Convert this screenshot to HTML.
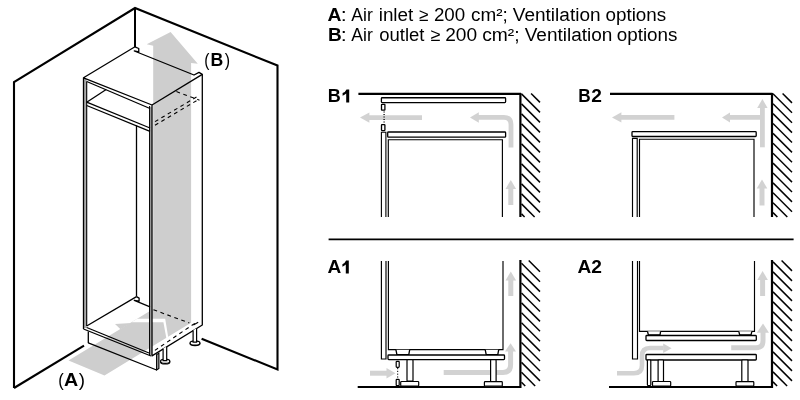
<!DOCTYPE html>
<html><head><meta charset="utf-8"><style>
html,body{margin:0;padding:0;background:#fff;width:800px;height:400px;overflow:hidden}
svg{display:block;will-change:transform}
text{font-family:"Liberation Sans",sans-serif}
</style></head><body>
<svg width="800" height="400" viewBox="0 0 800 400">
<line x1="422" y1="117.6" x2="368.4" y2="117.6" stroke="#d2d2d2" stroke-width="4.8"/><polygon points="360,117.6 369.4,112.39999999999999 369.4,122.8" fill="#d2d2d2"/><path d="M511 147.5 V124.6 Q511 117.4 504 117.4 H478" fill="none" stroke="#d2d2d2" stroke-width="4.8"/><polygon points="470,117.5 478.8,112.2 478.8,122.8" fill="#d2d2d2"/><line x1="510.8" y1="205" x2="510.8" y2="188" stroke="#d2d2d2" stroke-width="5"/><polygon points="510.8,180 505.5,189 516.1,189" fill="#d2d2d2"/><line x1="674.4" y1="117.4" x2="620.4" y2="117.4" stroke="#d2d2d2" stroke-width="4.8"/><polygon points="612,117.4 621.4,112.2 621.4,122.60000000000001" fill="#d2d2d2"/><line x1="762.4" y1="147.3" x2="762.4" y2="107" stroke="#d2d2d2" stroke-width="4.8"/><polygon points="762.4,99.1 757.2,108 767.6,108" fill="#d2d2d2"/><line x1="762.4" y1="117.4" x2="730" y2="117.4" stroke="#d2d2d2" stroke-width="4.8"/><polygon points="722,117.4 730,112.4 730,122.4" fill="#d2d2d2"/><line x1="762" y1="205.5" x2="762" y2="187.5" stroke="#d2d2d2" stroke-width="5"/><polygon points="762,179.5 756.7,188.5 767.3,188.5" fill="#d2d2d2"/><line x1="370" y1="373.2" x2="387.5" y2="373.2" stroke="#d2d2d2" stroke-width="5"/><polygon points="395.5,373.2 386.5,367.9 386.5,378.5" fill="#d2d2d2"/><path d="M443.7 372.4 H503 Q510.6 372.4 510.6 364.8 V351" fill="none" stroke="#d2d2d2" stroke-width="5"/><polygon points="510.6,343.2 505,351.5 516,351.5" fill="#d2d2d2"/><line x1="510.8" y1="296" x2="510.8" y2="279.4" stroke="#d2d2d2" stroke-width="5"/><polygon points="510.8,271.4 505.5,280.4 516.1,280.4" fill="#d2d2d2"/><path d="M617 373.2 H634 Q642 373.2 642 365.2 V356 Q642 348 650 348 H663.5" fill="none" stroke="#d2d2d2" stroke-width="4.6"/><polygon points="671.6,348.2 663.2,343.4 663.2,353" fill="#d2d2d2"/><path d="M731.2 347.8 H756 Q763 347.8 763 340.8 V332" fill="none" stroke="#d2d2d2" stroke-width="5"/><polygon points="763,323.4 756.8,332.8 769,332.8" fill="#d2d2d2"/><line x1="762.6" y1="296" x2="762.6" y2="279" stroke="#d2d2d2" stroke-width="5"/><polygon points="762.6,271 757.3000000000001,280 767.9,280" fill="#d2d2d2"/><polygon points="68.5,360.5 153.2,309.00 153.2,45.8 146.7,44.2 170.6,32 197.8,63.8 191.1,63 191.1,322.85 104.5,375.5" fill="#cecece"/><polygon points="115,324 131,323 120.5,329.18" fill="#cecece"/><polygon points="137.09,318.8 165.2,318.8 168.6,339.4 166.6,339.4 163.4,322.2 131.49,322.2" fill="#fff"/><polyline points="14,388 14,82 135,8 277.5,65.5 277.5,369.5 201.6,338.7" fill="none" stroke="#000" stroke-width="2.1" stroke-linejoin="miter"/><line x1="135" y1="8" x2="135" y2="47" stroke="#000" stroke-width="2.0" /><line x1="14" y1="388" x2="84" y2="345.6" stroke="#000" stroke-width="2.1" /><rect x="83.5" y="79" width="3.2" height="249" fill="#aaa"/><rect x="149.6" y="107" width="2.4" height="248" fill="#b4b4b4"/><g fill="none" stroke="#000" stroke-width="1.3" stroke-linejoin="round"><polyline points="83.5,329 83.5,77.8 135,46.8 138.75,48.5 138.75,51.9 134.3,51 194,75 199,72.4 202.3,74.4 202.3,325 152,355.9 152,105 83.5,77.8"/><polyline points="152,105 202.3,74.4"/><line x1="86.7" y1="81.5" x2="150" y2="108.5"/><line x1="86.7" y1="81.5" x2="86.7" y2="326" stroke-width="1.1"/><line x1="86.7" y1="102.2" x2="106.2" y2="89.5"/><line x1="86.7" y1="102.2" x2="150" y2="128"/><line x1="86.7" y1="105.5" x2="150" y2="131.3"/><line x1="136.5" y1="125.5" x2="136.5" y2="296.6"/><line x1="149.6" y1="106" x2="149.6" y2="355" stroke-width="1.1"/><line x1="86.7" y1="326" x2="136.5" y2="296.6"/><polyline points="136.5,296.6 139.1,298.1 139.1,301.1 134.3,300.4 150,306.8"/><line x1="86.7" y1="327.5" x2="149" y2="353"/><line x1="83.5" y1="329" x2="151" y2="356"/><polyline points="88.3,331.5 88.3,342.8 156.6,370"/></g><g fill="none" stroke="#000" stroke-width="1.1" stroke-dasharray="3.8,3.6"><line x1="153.5" y1="309.8" x2="189.3" y2="322.9"/><line x1="154.9" y1="350.4" x2="197.5" y2="321.5"/><line x1="193.4" y1="325" x2="198.2" y2="322.3" stroke-dasharray="none"/><line x1="176.4" y1="91.6" x2="199.5" y2="100.2"/><line x1="155" y1="121.6" x2="199" y2="95.6"/><line x1="155" y1="125.2" x2="199" y2="99.2"/></g><g fill="#fff" stroke="#000" stroke-width="1.2"><ellipse cx="195" cy="343.6" rx="4.9" ry="2.1"/><ellipse cx="195" cy="342.9" rx="4.9" ry="2.1"/><path d="M193.1 330.2 V342.2 H196.6 V328.2" /><ellipse cx="165.2" cy="361.9" rx="4.6" ry="2.1"/><ellipse cx="165.2" cy="361.2" rx="4.6" ry="2.1"/><path d="M163.1 348.6 V360.6 H166.7 V346.4" /><polygon points="156.6,354.6 158.9,353.2 158.9,368.4 156.6,370" fill="#aaa" stroke-width="1.1"/></g><path d="M349.2 89.4 V102.4 H346.2 V93.5 Q344.6 95.1 342.6 95.7 V93.1 Q345.4 92 346.5 89.4 Z" fill="#000"/><path d="M348.8 260.5 V273.4 H345.8 V264.6 Q344.2 266.2 342.4 266.8 V264.2 Q345 263.1 346.1 260.5 Z" fill="#000"/><line x1="328.6" y1="239.4" x2="793.6" y2="239.4" stroke="#000" stroke-width="1.6" /><line x1="358.4" y1="93.8" x2="521" y2="93.8" stroke="#000" stroke-width="2.2" /><line x1="520.4" y1="93" x2="520.4" y2="217" stroke="#000" stroke-width="2.2" /><g stroke="#000" stroke-width="1.5" stroke-linecap="butt"><line x1="531.10" y1="93.50" x2="540.00" y2="102.40"/><line x1="521.50" y1="93.90" x2="540.00" y2="112.40"/><line x1="521.50" y1="103.90" x2="540.00" y2="122.40"/><line x1="521.50" y1="113.90" x2="540.00" y2="132.40"/><line x1="521.50" y1="123.90" x2="540.00" y2="142.40"/><line x1="521.50" y1="133.90" x2="540.00" y2="152.40"/><line x1="521.50" y1="143.90" x2="540.00" y2="162.40"/><line x1="521.50" y1="153.90" x2="540.00" y2="172.40"/><line x1="521.50" y1="163.90" x2="540.00" y2="182.40"/><line x1="521.50" y1="173.90" x2="540.00" y2="192.40"/><line x1="521.50" y1="183.90" x2="540.00" y2="202.40"/><line x1="521.50" y1="193.90" x2="540.00" y2="212.40"/><line x1="521.50" y1="203.90" x2="534.60" y2="217.00"/><line x1="521.50" y1="213.90" x2="524.60" y2="217.00"/></g><rect x="381.4" y="97.75" width="124.2" height="4.9" rx="0.8" fill="#fff" stroke="#000" stroke-width="1.3"/><rect x="381.5" y="104.3" width="3.4" height="5.9" rx="0.5" fill="#fff" stroke="#000" stroke-width="1.3"/><rect x="381.5" y="124.7" width="3.4" height="5.9" rx="0.5" fill="#fff" stroke="#000" stroke-width="1.3"/><line x1="384.1" y1="111.5" x2="384.1" y2="124" stroke="#000" stroke-width="1.3" stroke-dasharray="1.1,1.4"/><rect x="387.7" y="132" width="117.9" height="5.2" rx="0.8" fill="#fff" stroke="#000" stroke-width="1.3"/><path d="M381.4 217 V132.2 H385.9 V217" fill="#fff" stroke="#000" stroke-width="1.1"/><path d="M388.3 217 V139.7 H502.4 V217" fill="none" stroke="#000" stroke-width="1.15"/><line x1="610" y1="93.8" x2="772.4" y2="93.8" stroke="#000" stroke-width="2.2" /><line x1="772" y1="93" x2="772" y2="217" stroke="#000" stroke-width="2.2" /><g stroke="#000" stroke-width="1.5" stroke-linecap="butt"><line x1="782.60" y1="93.50" x2="792.00" y2="102.90"/><line x1="773.00" y1="93.80" x2="792.00" y2="112.80"/><line x1="773.00" y1="103.70" x2="792.00" y2="122.70"/><line x1="773.00" y1="113.60" x2="792.00" y2="132.60"/><line x1="773.00" y1="123.50" x2="792.00" y2="142.50"/><line x1="773.00" y1="133.40" x2="792.00" y2="152.40"/><line x1="773.00" y1="143.30" x2="792.00" y2="162.30"/><line x1="773.00" y1="153.20" x2="792.00" y2="172.20"/><line x1="773.00" y1="163.10" x2="792.00" y2="182.10"/><line x1="773.00" y1="173.00" x2="792.00" y2="192.00"/><line x1="773.00" y1="182.90" x2="792.00" y2="201.90"/><line x1="773.00" y1="192.80" x2="792.00" y2="211.80"/><line x1="773.00" y1="202.70" x2="787.30" y2="217.00"/><line x1="773.00" y1="212.60" x2="777.40" y2="217.00"/></g><rect x="632" y="131.6" width="124.2" height="4.9" rx="0.8" fill="#fff" stroke="#000" stroke-width="1.3"/><path d="M632.5 217 V138.4 H637.2 V217" fill="#fff" stroke="#000" stroke-width="1.15"/><path d="M639.5 217 V139.2 H754 V217" fill="none" stroke="#000" stroke-width="1.15"/><line x1="357.7" y1="387" x2="521" y2="387" stroke="#000" stroke-width="2.2" /><line x1="520.4" y1="260" x2="520.4" y2="388" stroke="#000" stroke-width="2.2" /><g stroke="#000" stroke-width="1.5" stroke-linecap="butt"><line x1="528.72" y1="260.50" x2="540.00" y2="271.78"/><line x1="521.50" y1="263.20" x2="540.00" y2="281.70"/><line x1="521.50" y1="273.12" x2="540.00" y2="291.62"/><line x1="521.50" y1="283.04" x2="540.00" y2="301.54"/><line x1="521.50" y1="292.96" x2="540.00" y2="311.46"/><line x1="521.50" y1="302.88" x2="540.00" y2="321.38"/><line x1="521.50" y1="312.80" x2="540.00" y2="331.30"/><line x1="521.50" y1="322.72" x2="540.00" y2="341.22"/><line x1="521.50" y1="332.64" x2="540.00" y2="351.14"/><line x1="521.50" y1="342.56" x2="540.00" y2="361.06"/><line x1="521.50" y1="352.48" x2="540.00" y2="370.98"/><line x1="521.50" y1="362.40" x2="540.00" y2="380.90"/><line x1="521.50" y1="372.32" x2="535.18" y2="386.00"/><line x1="521.50" y1="382.24" x2="525.26" y2="386.00"/></g><path d="M381.4 261 V359 H386 V261" fill="#fff" stroke="#000" stroke-width="1.15"/><path d="M388.4 261 V349.6 H503 V261" fill="none" stroke="#000" stroke-width="1.15"/><path d="M395.9 349.7 L396.9 354.6 H408.8 L409.7 349.7" fill="#fff" stroke="#000" stroke-width="1.3"/><path d="M485.2 349.7 L486.2 354.6 H497.8 L498.7 349.7" fill="#fff" stroke="#000" stroke-width="1.3"/><rect x="388" y="355" width="116.5" height="4.6" rx="0.8" fill="#fff" stroke="#000" stroke-width="1.3"/><rect x="407" y="359.6" width="6" height="21.6" rx="0.8" fill="#fff" stroke="#000" stroke-width="1.2"/><rect x="490.6" y="359.7" width="5.5" height="22" rx="0.8" fill="#fff" stroke="#000" stroke-width="1.2"/><rect x="400.7" y="381.5" width="18" height="4.6" rx="0.8" fill="#fff" stroke="#000" stroke-width="1.2"/><rect x="484.4" y="381.7" width="17.9" height="4.5" rx="0.8" fill="#fff" stroke="#000" stroke-width="1.2"/><rect x="396.2" y="361.3" width="3" height="6" rx="0.8" fill="#fff" stroke="#000" stroke-width="1.2"/><rect x="396.2" y="379.3" width="3" height="6.4" rx="0.8" fill="#fff" stroke="#000" stroke-width="1.2"/><line x1="397.7" y1="368" x2="397.7" y2="379" stroke="#000" stroke-width="1" stroke-dasharray="1.2,1.6"/><line x1="609" y1="387" x2="772.4" y2="387" stroke="#000" stroke-width="2.2" /><line x1="772" y1="260" x2="772" y2="388" stroke="#000" stroke-width="2.2" /><g stroke="#000" stroke-width="1.5" stroke-linecap="butt"><line x1="781.60" y1="260.50" x2="792.00" y2="270.90"/><line x1="773.00" y1="261.90" x2="792.00" y2="280.90"/><line x1="773.00" y1="271.90" x2="792.00" y2="290.90"/><line x1="773.00" y1="281.90" x2="792.00" y2="300.90"/><line x1="773.00" y1="291.90" x2="792.00" y2="310.90"/><line x1="773.00" y1="301.90" x2="792.00" y2="320.90"/><line x1="773.00" y1="311.90" x2="792.00" y2="330.90"/><line x1="773.00" y1="321.90" x2="792.00" y2="340.90"/><line x1="773.00" y1="331.90" x2="792.00" y2="350.90"/><line x1="773.00" y1="341.90" x2="792.00" y2="360.90"/><line x1="773.00" y1="351.90" x2="792.00" y2="370.90"/><line x1="773.00" y1="361.90" x2="792.00" y2="380.90"/><line x1="773.00" y1="371.90" x2="787.10" y2="386.00"/><line x1="773.00" y1="381.90" x2="777.10" y2="386.00"/></g><path d="M632.5 261 V359 H637.5 V261" fill="#fff" stroke="#000" stroke-width="1.15"/><path d="M639.5 261 V331.3 H754.5 V261" fill="none" stroke="#000" stroke-width="1.15"/><path d="M647.5 331.3 L648.4 335 H660 L660.6 331.3" fill="#fff" stroke="#000" stroke-width="1.3"/><path d="M738.8 331.3 L739.7 335 H751 L751.9 331.3" fill="#fff" stroke="#000" stroke-width="1.3"/><rect x="646" y="335.5" width="110.3" height="5" rx="0.8" fill="#fff" stroke="#000" stroke-width="1.3"/><rect x="646" y="354.5" width="110.3" height="5.5" rx="0.8" fill="#fff" stroke="#000" stroke-width="1.3"/><rect x="647.4" y="360" width="3.4" height="25.5" rx="0.8" fill="#fff" stroke="#000" stroke-width="1.2"/><rect x="658.1" y="360" width="5.4" height="21.5" rx="0.8" fill="#fff" stroke="#000" stroke-width="1.2"/><rect x="741.8" y="360" width="6.2" height="21.6" rx="0.8" fill="#fff" stroke="#000" stroke-width="1.2"/><rect x="652.5" y="381.5" width="18.2" height="4.5" rx="0.8" fill="#fff" stroke="#000" stroke-width="1.2"/><rect x="736" y="381.6" width="17.8" height="4.5" rx="0.8" fill="#fff" stroke="#000" stroke-width="1.2"/><g fill="#000" font-family="Liberation Sans"><text x="204.14" y="65.8" font-size="18" font-weight="normal" textLength="5.18" lengthAdjust="spacingAndGlyphs">(</text><text x="210.57" y="65.8" font-size="18" font-weight="bold" textLength="12.76" lengthAdjust="spacingAndGlyphs">B</text><text x="224.78" y="65.8" font-size="18" font-weight="normal" textLength="5.33" lengthAdjust="spacingAndGlyphs">)</text><text x="58.13" y="385.9" font-size="18" font-weight="normal" textLength="5.49" lengthAdjust="spacingAndGlyphs">(</text><text x="63.95" y="385.9" font-size="18" font-weight="bold" textLength="14.19" lengthAdjust="spacingAndGlyphs">A</text><text x="78.74" y="385.9" font-size="18" font-weight="normal" textLength="6.27" lengthAdjust="spacingAndGlyphs">)</text><text x="327.56" y="20.5" font-size="18" font-weight="bold" textLength="13.97" lengthAdjust="spacingAndGlyphs">A</text><text x="340.80" y="20.5" font-size="18" font-weight="normal" textLength="6.02" lengthAdjust="spacingAndGlyphs">:</text><text x="351.25" y="20.5" font-size="18" font-weight="normal" textLength="21.49" lengthAdjust="spacingAndGlyphs">Air</text><text x="378.69" y="20.5" font-size="18" font-weight="normal" textLength="34.60" lengthAdjust="spacingAndGlyphs">inlet</text><text x="419.27" y="20.5" font-size="18" font-weight="normal" textLength="9.44" lengthAdjust="spacingAndGlyphs">≥</text><text x="433.96" y="20.5" font-size="18" font-weight="normal" textLength="31.27" lengthAdjust="spacingAndGlyphs">200</text><text x="471.11" y="20.5" font-size="18" font-weight="normal" textLength="36.71" lengthAdjust="spacingAndGlyphs">cm²;</text><text x="512.84" y="20.5" font-size="18" font-weight="normal" textLength="87.70" lengthAdjust="spacingAndGlyphs">Ventilation</text><text x="605.47" y="20.5" font-size="18" font-weight="normal" textLength="60.71" lengthAdjust="spacingAndGlyphs">options</text><text x="328.08" y="41" font-size="18" font-weight="bold" textLength="13.71" lengthAdjust="spacingAndGlyphs">B</text><text x="340.80" y="41" font-size="18" font-weight="normal" textLength="6.02" lengthAdjust="spacingAndGlyphs">:</text><text x="351.25" y="41" font-size="18" font-weight="normal" textLength="21.49" lengthAdjust="spacingAndGlyphs">Air</text><text x="379.23" y="41" font-size="18" font-weight="normal" textLength="45.22" lengthAdjust="spacingAndGlyphs">outlet</text><text x="430.75" y="41" font-size="18" font-weight="normal" textLength="9.89" lengthAdjust="spacingAndGlyphs">≥</text><text x="445.19" y="41" font-size="18" font-weight="normal" textLength="31.91" lengthAdjust="spacingAndGlyphs">200</text><text x="482.20" y="41" font-size="18" font-weight="normal" textLength="37.40" lengthAdjust="spacingAndGlyphs">cm²;</text><text x="524.74" y="41" font-size="18" font-weight="normal" textLength="87.70" lengthAdjust="spacingAndGlyphs">Ventilation</text><text x="616.71" y="41" font-size="18" font-weight="normal" textLength="60.76" lengthAdjust="spacingAndGlyphs">options</text><text x="327.85" y="102.4" font-size="18" font-weight="bold" textLength="13.00" lengthAdjust="spacingAndGlyphs">B</text><text x="578.31" y="102.4" font-size="18" font-weight="bold" textLength="12.41" lengthAdjust="spacingAndGlyphs">B</text><text x="591.35" y="102.4" font-size="18" font-weight="bold" textLength="10.66" lengthAdjust="spacingAndGlyphs">2</text><text x="327.57" y="273.4" font-size="18" font-weight="bold" textLength="13.76" lengthAdjust="spacingAndGlyphs">A</text><text x="577.57" y="273.4" font-size="18" font-weight="bold" textLength="13.76" lengthAdjust="spacingAndGlyphs">A</text><text x="591.35" y="273.4" font-size="18" font-weight="bold" textLength="10.66" lengthAdjust="spacingAndGlyphs">2</text></g>
</svg>
</body></html>
